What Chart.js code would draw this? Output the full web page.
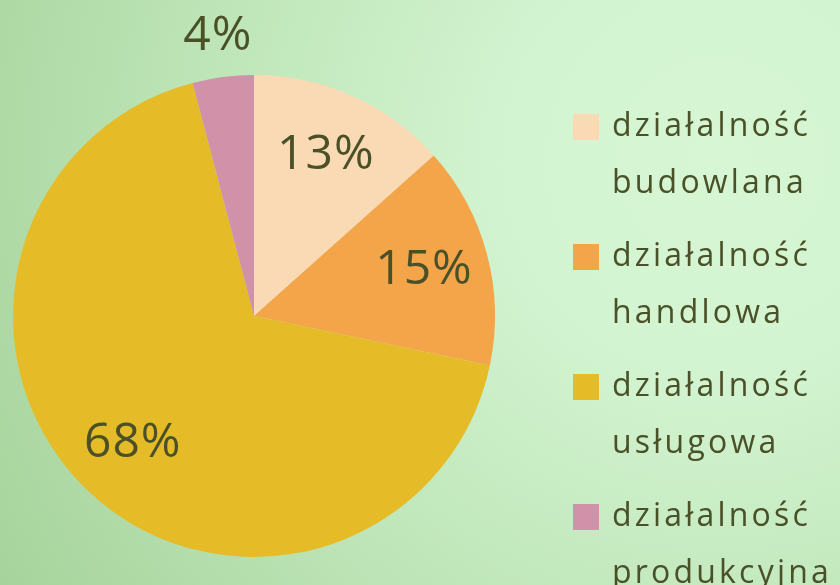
<!DOCTYPE html>
<html>
<head>
<meta charset="utf-8">
<script src="https://cdn.jsdelivr.net/npm/chart.js@4/dist/chart.umd.min.js"></script>
<style>
    html, body {
        margin: 0;
        padding: 0;
        width: 840px;
        height: 585px;
        overflow: hidden;
    }
    body {
        background: radial-gradient(circle at 720px 160px, #d6f6d4 0%, #d3f4d1 25%, #bfe6b9 60%, #a6d39b 100%);
    }
    #wrap {
        position: relative;
        width: 840px;
        height: 585px;
    }
</style>
</head>
<body>
<div id="wrap"><canvas id="chart"></canvas></div>
<script>
// dane wykresu
const labels = [
    ['działalność', 'budowlana'],
    ['działalność', 'handlowa'],
    ['działalność', 'usługowa'],
    ['działalność', 'produkcyjna']
];
const values = [13.4, 14.9, 67.6, 4.1];
const colors = ['#fadab4', '#f4a54a', '#e5bc28', '#d191a8'];

const textColor = '#4a5028';
const fontFamily = '"Open Sans", "DejaVu Sans", sans-serif';

// etykiety procentowe na wycinkach
const percentLabels = {
    id: 'percentLabels',
    afterDatasetsDraw(chart) {
        const ctx = chart.ctx;
        const meta = chart.getDatasetMeta(0);
        ctx.save();
        ctx.fillStyle = textColor;
        ctx.font = '48px ' + fontFamily;
        ctx.letterSpacing = '1px';
        ctx.textAlign = 'center';
        ctx.textBaseline = 'middle';
        meta.data.forEach((arc, i) => {
            const p = arc.getProps(['x', 'y', 'startAngle', 'endAngle', 'outerRadius'], true);
            const mid = (p.startAngle + p.endAngle) / 2;
            // maly wycinek - podpis na zewnatrz
            const r = values[i] < 5 ? p.outerRadius * 1.17 : p.outerRadius * 0.73;
            const x = p.x + Math.cos(mid) * r;
            const y = p.y + Math.sin(mid) * r;
            ctx.fillText(Math.round(values[i]) + '%', x, y);
        });
        ctx.restore();
    }
};

// legenda po prawej, dwie linie na pozycje
const sideLegend = {
    id: 'sideLegend',
    afterDraw(chart) {
        const ctx = chart.ctx;
        const left = 573;
        const top = 114;
        const box = 26;
        const step = 130;
        const lineGap = 57;
        ctx.save();
        ctx.font = '32px ' + fontFamily;
        ctx.letterSpacing = '3.2px';
        ctx.textBaseline = 'alphabetic';
        ctx.textAlign = 'left';
        labels.forEach((lines, i) => {
            const y = top + i * step;
            ctx.fillStyle = colors[i];
            ctx.fillRect(left, y, box, box);
            ctx.fillStyle = textColor;
            lines.forEach((line, j) => {
                ctx.fillText(line, left + 39, y + 22 + j * lineGap);
            });
        });
        ctx.restore();
    }
};

new Chart(document.getElementById('chart'), {
    type: 'pie',
    data: {
        labels: labels,
        datasets: [{
            data: values,
            backgroundColor: colors,
            borderWidth: 0
        }]
    },
    options: {
        responsive: true,
        maintainAspectRatio: false,
        animation: false,
        layout: {
            padding: { left: 13, right: 345, top: 75, bottom: 28 }
        },
        plugins: {
            legend: { display: false },
            tooltip: { enabled: false }
        }
    },
    plugins: [percentLabels, sideLegend]
});
</script>
</body>
</html>
